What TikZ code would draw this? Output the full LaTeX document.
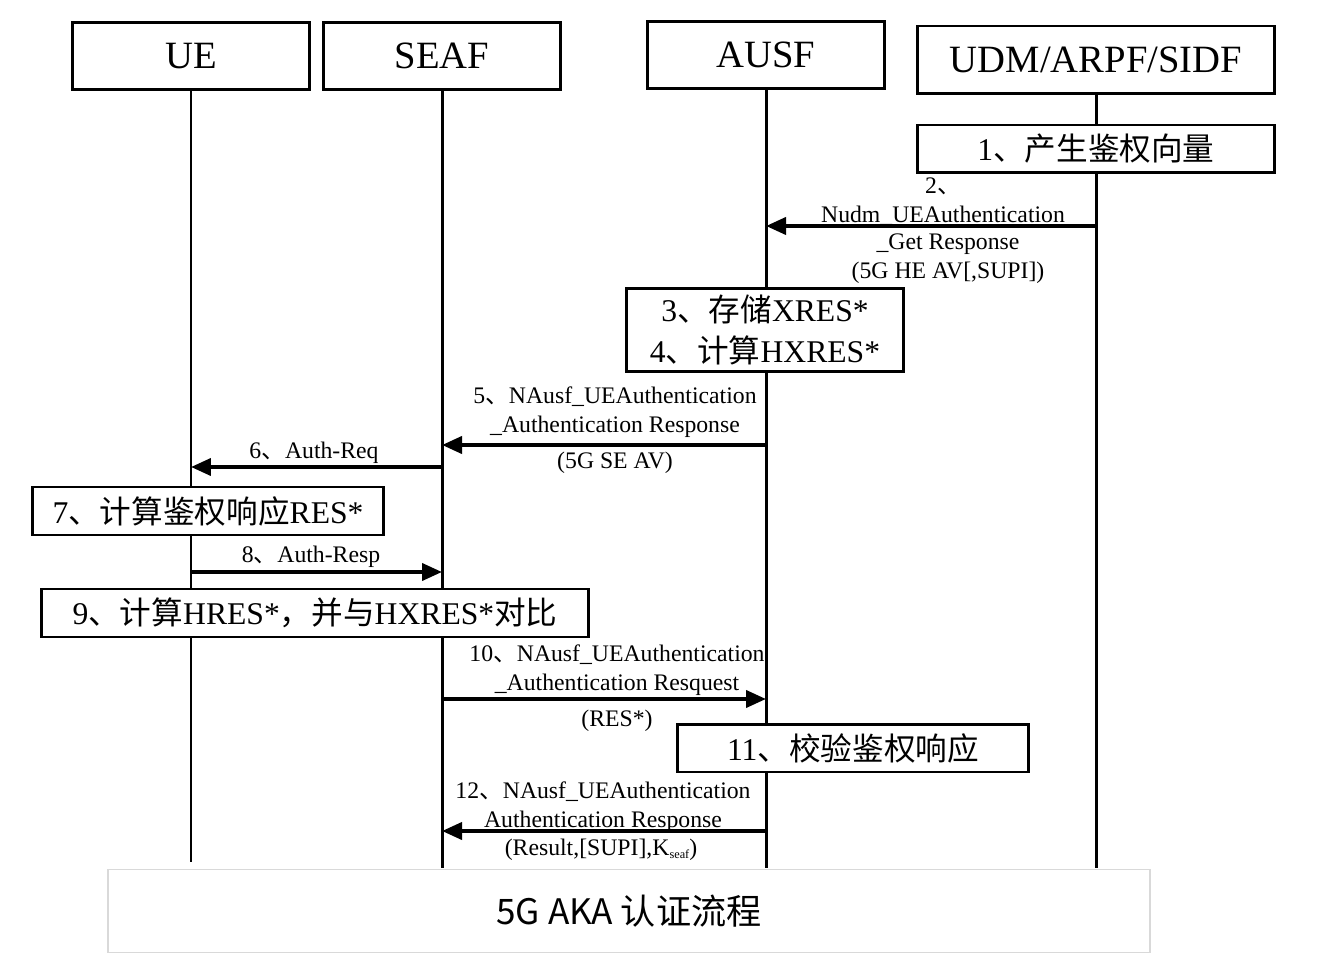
\documentclass[tikz,border=0pt]{standalone}
\usepackage{fontspec}
\setmainfont{Liberation Serif}
\newfontfamily\cjk{Noto Sans CJK SC}
\usetikzlibrary{arrows.meta}

\begin{document}
\begin{tikzpicture}[x=0.02cm,y=-0.02cm,every node/.style={align=center},role/.style={draw,line width=1.7pt,minimum width=4.76cm,minimum height=1.34cm,font=\fontsize{22}{26}\selectfont},act/.style={draw,line width=1.7pt,fill=white,minimum height=0.96cm,inner sep=0pt,font=\fontsize{18}{23}\selectfont},lab/.style={font=\fontsize{13.5}{16.4}\selectfont,inner sep=0pt},life/.style={line width=1.7pt},msg/.style={-{Triangle[length=4mm,width=3.4mm]},line width=2.2pt}]
\useasboundingbox (0,0) rectangle (1344,972);
% roles and lifelines
\node[role] (ue) at (191,56) {UE};
\node[role] (seaf) at (442,56) {SEAF};
\node[role] (ausf) at (766,55) {AUSF};
\node[role,minimum width=7.16cm,minimum height=1.36cm] (udm) at (1096,60) {UDM/ARPF/SIDF};
\foreach \n/\x/\y in {ue/191/862,seaf/442/868,ausf/766/868,udm/1096/868}{
  \coordinate (\n end) at (\x,\y);
  \draw[life] (\n.south) -- (\n end);}
\foreach \n/\y in {2/226,5/445,6/467,8/572,10/699,12/831}{
  \coordinate (ue\n) at (191,\y); \coordinate (seaf\n) at (442,\y);
  \coordinate (ausf\n) at (766,\y); \coordinate (udm\n) at (1096,\y);}
% steps
\node[act,minimum width=7.14cm] (s1) at (1096,149) {1{\cjk 、产生鉴权向量}};
\draw[msg] (udm2) -- (ausf2);
\node[lab] (l2a) at (943,202) {2{\cjk 、}\\Nudm\_UEAuthentication};
\node[lab] (l2b) at (948,259) {\_Get Response\\(5G HE AV[,SUPI])};
\node[act,minimum width=5.56cm,minimum height=1.66cm] (s3) at (765,330) {3{\cjk 、存储}XRES*\\4{\cjk 、计算}HXRES*};
\draw[msg] (ausf5) -- (seaf5);
\node[lab] (l5a) at (615,412) {5{\cjk 、}NAusf\_UEAuthentication\\\_Authentication Response};
\node[lab] (l5b) at (615,463) {(5G SE AV)};
\draw[msg] (seaf6) -- (ue6);
\node[lab] (l6) at (314,453) {6{\cjk 、}Auth-Req};
\node[act,minimum width=7.04cm] (s7) at (208,511) {7{\cjk 、计算鉴权响应}RES*};
\draw[msg] (ue8) -- (seaf8);
\node[lab] (l8) at (311,557) {8{\cjk 、}Auth-Resp};
\node[act,minimum width=10.94cm] (s9) at (315,613) {9{\cjk 、计算}HRES*{\cjk ，并与}HXRES*{\cjk 对比}};
\draw[msg] (seaf10) -- (ausf10);
\node[lab] (l10a) at (617,670) {10{\cjk 、}NAusf\_UEAuthentication\\\_Authentication Resquest};
\node[lab] (l10b) at (617,721) {(RES*)};
\node[act,minimum width=7.02cm] (s11) at (853,748) {11{\cjk 、校验鉴权响应}};
\draw[msg] (ausf12) -- (seaf12);
\node[lab] (l12a) at (603,807) {12{\cjk 、}NAusf\_UEAuthentication\\Authentication Response};
\node[lab] (l12b) at (601,850) {(Result,[SUPI],K\raisebox{-0.25ex}{\fontsize{7}{8}\selectfont seaf})};
% caption box
\node[draw=black!15,line width=0.8pt,fill=white,minimum width=20.84cm,minimum height=1.66cm,font=\cjk\fontsize{20}{24}\selectfont] (cap) at (629,911) {5G AKA 认证流程};
\end{tikzpicture}
\end{document}
